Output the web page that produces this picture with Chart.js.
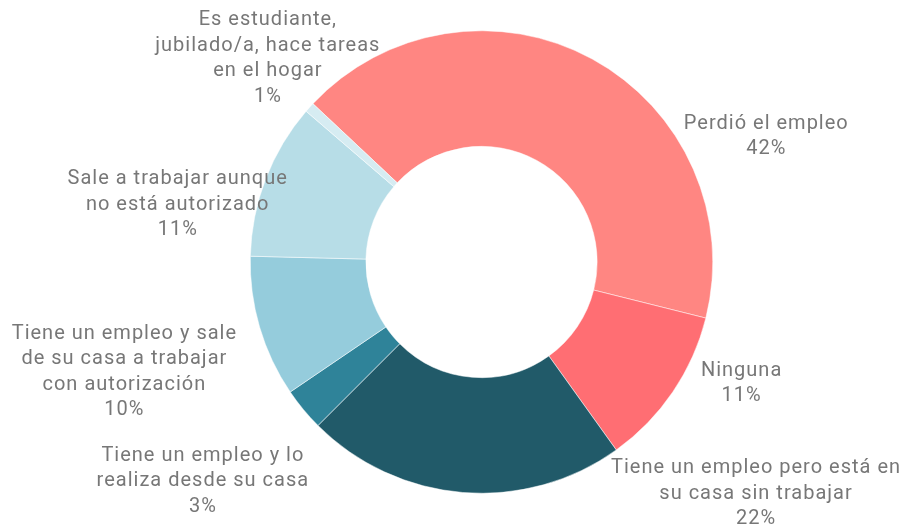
<!DOCTYPE html>
<html>
<head>
<meta charset="utf-8">
<script src="https://cdn.jsdelivr.net/npm/chart.js@4/dist/chart.umd.min.js"></script>
<style>
    html, body { margin: 0; padding: 0; background: #fff; }
    #wrap { width: 904px; height: 529px; position: relative; }
</style>
</head>
<body>
<div id="wrap"><canvas id="chartCanvas"></canvas></div>
<script>
// data
const categories = [
    ['Perdió el empleo'],
    ['Ninguna'],
    ['Tiene un empleo pero está en', 'su casa sin trabajar'],
    ['Tiene un empleo y lo', 'realiza desde su casa'],
    ['Tiene un empleo y sale', 'de su casa a trabajar', 'con autorización'],
    ['Sale a trabajar aunque', 'no está autorizado'],
    ['Es estudiante,', 'jubilado/a, hace tareas', 'en el hogar']
];
const shares = [41.9, 11.2, 22.4, 3.0, 9.9, 10.9, 0.7];

const sliceColors = ['#ff8682', '#ff6e73', '#215a69', '#2f8399', '#95ccdc', '#b7dde7', '#d6ecf2'];

// label placement: angle shift (deg) from slice middle, distance in outer radii
const labelNudge = [
    [37.2, 1.35], [-9.6, 1.237], [-54.8, 1.547], [1.7, 1.527],
    [-0.4, 1.613], [-9.9, 1.339], [2.0, 1.283]
];

const outsideLabels = {
    id: 'outsideLabels',
    afterDatasetsDraw(chart) {
        const ctx = chart.ctx;
        const meta = chart.getDatasetMeta(0);
        const total = shares.reduce((a, b) => a + b, 0);
        ctx.save();
        ctx.font = '20px Roboto';
        ctx.letterSpacing = '1px';
        ctx.fillStyle = '#777777';
        ctx.textAlign = 'center';
        ctx.textBaseline = 'middle';
        const lineH = 25.5;
        meta.data.forEach((arc, i) => {
            const p = arc.getProps(['x', 'y', 'startAngle', 'endAngle', 'outerRadius'], true);
            const mid = (p.startAngle + p.endAngle) / 2 + labelNudge[i][0] * Math.PI / 180;
            const r = p.outerRadius * labelNudge[i][1];
            const cx = p.x + Math.cos(mid) * r;
            const cy = p.y + Math.sin(mid) * r + 2.5;
            const lines = categories[i].concat([Math.round(shares[i] / total * 100) + '%']);
            const top = cy - (lines.length - 1) * lineH / 2;
            lines.forEach((t, k) => ctx.fillText(t, cx, top + k * lineH));
        });
        ctx.restore();
    }
};

const ctx = document.getElementById('chartCanvas').getContext('2d');
new Chart(ctx, {
    type: 'doughnut',
    data: {
        labels: categories,
        datasets: [{
            data: shares,
            backgroundColor: sliceColors,
            borderColor: '#ffffff',
            borderWidth: 0.5
        }]
    },
    options: {
        responsive: true,
        maintainAspectRatio: false,
        animation: false,
        rotation: -46.8,
        cutout: '50%',
        layout: { padding: { left: 59, right: 0, top: 30.5, bottom: 35.5 } },
        plugins: {
            legend: { display: false },
            tooltip: { enabled: false }
        }
    },
    plugins: [outsideLabels]
});
</script>
</body>
</html>
